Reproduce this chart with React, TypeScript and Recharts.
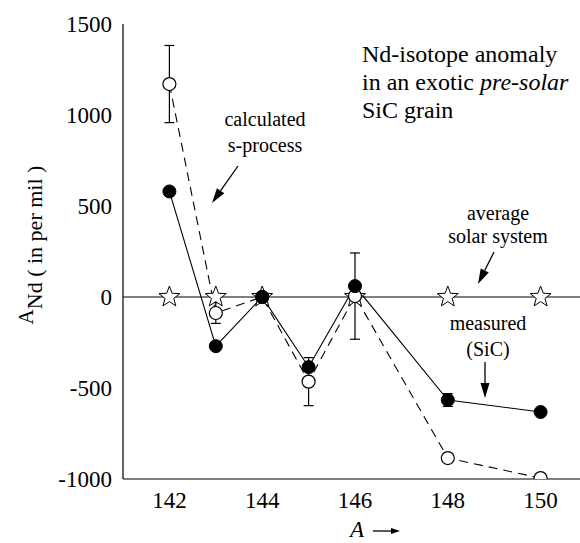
import React from 'react';
import { ComposedChart, Line, XAxis, YAxis, ReferenceLine, ErrorBar, Customized } from 'recharts';

const FONT = "'Liberation Serif', 'Times New Roman', Times, Tinos, 'Nimbus Roman', 'Noto Serif', 'DejaVu Serif', FreeSerif, serif";

// ---- data ----
const massNumbers = [142, 143, 144, 145, 146, 148, 150];
const measured = [580, -270, 0, -385, 60, -566, -632];
const measuredErr = [null, null, null, null, null, 35, null];
const calculated = [1170, -88, 0, -465, 5, -885, -995];
const calculatedErr = [212, 57, null, 132, 237, null, null];
const solarSystem = [0, 0, 0, null, 0, 0, 0];

const xMajorTicks = [142, 144, 146, 148, 150];
const xMinorTicks = [143, 145, 147, 149];
const yMajorTicks = [-1000, -500, 0, 500, 1000, 1500];
const yMinorTicks = [-900, -800, -700, -600, -400, -300, -200, -100, 100, 200, 300, 400, 600, 700, 800, 900, 1100, 1200, 1300, 1400];

const xDomain = [141, 151];
const yDomain = [-1000, 1500];

const chartData = massNumbers.map((a, i) => ({
  a,
  measured: measured[i],
  mErr: measuredErr[i],
  calculated: calculated[i],
  cErr: calculatedErr[i],
  star: solarSystem[i],
}));

const StarDot = (props: any) => {
  const { cx, cy, index } = props;
  if (cx == null || cy == null || props.value == null || isNaN(cy)) return <g key={`s${index}`} />;
  const R = 11;
  const r = 4.6;
  const pts: string[] = [];
  for (let k = 0; k < 10; k++) {
    const ang = -Math.PI / 2 + (k * Math.PI) / 5;
    const rad = k % 2 === 0 ? R : r;
    pts.push(`${cx + rad * Math.cos(ang)},${cy + rad * Math.sin(ang)}`);
  }
  return <polygon key={`s${index}`} points={pts.join(' ')} fill="#fff" stroke="#000" strokeWidth={1} />;
};

const Arrow = ({ x1, y1, x2, y2, len = 15, half = 4.5 }: any) => {
  const dx = x2 - x1;
  const dy = y2 - y1;
  const L = Math.sqrt(dx * dx + dy * dy);
  const ux = dx / L;
  const uy = dy / L;
  const bx = x2 - ux * len;
  const by = y2 - uy * len;
  const px = -uy;
  const py = ux;
  return (
    <g>
      <line x1={x1} y1={y1} x2={bx} y2={by} stroke="#000" strokeWidth={1.3} />
      <polygon
        points={`${x2},${y2} ${bx + px * half},${by + py * half} ${bx - px * half},${by - py * half}`}
        fill="#000"
      />
    </g>
  );
};

const T = (p: any) => <text {...p} style={{ fontFamily: FONT }} fill="#000" />;

const Annotations = () => (
  <g>
    <T x={362} y={62} fontSize={24}>Nd-isotope anomaly</T>
    <T x={362} y={90} fontSize={24}>
      in an exotic <tspan fontStyle="italic">pre-solar</tspan>
    </T>
    <T x={362} y={117.5} fontSize={24}>SiC grain</T>

    <T x={265} y={126} fontSize={20} textAnchor="middle">calculated</T>
    <T x={265} y={152} fontSize={20} textAnchor="middle">s-process</T>
    <Arrow x1={238} y1={166} x2={212} y2={203} />

    <T x={498} y={220} fontSize={20} textAnchor="middle">average</T>
    <T x={498} y={243} fontSize={20} textAnchor="middle">solar system</T>
    <Arrow x1={494} y1={252} x2={478} y2={284} />

    <T x={488} y={330} fontSize={20} textAnchor="middle">measured</T>
    <T x={488} y={356} fontSize={20} textAnchor="middle">(SiC)</T>
    <Arrow x1={485} y1={362} x2={485} y2={398} />

    {/* y-axis title */}
    <T transform="rotate(-90)" x={-245} y={42} fontSize={22} textAnchor="middle">
      <tspan dy={-9} fontSize={21}>A</tspan>
      <tspan dy={9}>Nd ( in per mil )</tspan>
    </T>

    {/* x-axis title */}
    <T x={350} y={537} fontSize={23} fontStyle="italic">A</T>
    <Arrow x1={373} y1={531} x2={400} y2={531} len={9} half={3} />
  </g>
);

const tickStyle = { fill: '#000', fontSize: 23, fontFamily: FONT, style: { fontFamily: FONT } };
const lineStyle = { stroke: '#000', strokeWidth: 1 };

export default function App() {
  return (
    <div style={{ position: 'absolute', left: 0, top: 0, width: 580, height: 543, overflow: 'hidden', background: '#fff', fontFamily: FONT }}>
      <ComposedChart width={600} height={543} data={chartData} margin={{ top: 24, right: 13, bottom: 24, left: 43 }}
        style={{ fontFamily: FONT }}>
        {/* bottom axis with labels */}
        <XAxis xAxisId="b" dataKey="a" type="number" domain={xDomain} ticks={xMajorTicks} interval={0}
          allowDataOverflow height={40} tickSize={0} tickMargin={13} tickLine={false}
          axisLine={{ stroke: '#000', strokeWidth: 1.2 }} tick={tickStyle} />
        <XAxis xAxisId="bMaj" type="number" domain={xDomain} ticks={xMajorTicks} interval={0} allowDataOverflow
          mirror height={0} tickSize={10} tick={false} axisLine={false} tickLine={lineStyle} />
        <XAxis xAxisId="bMin" type="number" domain={xDomain} ticks={xMinorTicks} interval={0} allowDataOverflow
          mirror height={0} tickSize={6} tick={false} axisLine={false} tickLine={lineStyle} />
        <XAxis xAxisId="tMaj" orientation="top" type="number" domain={xDomain} ticks={xMajorTicks} interval={0} allowDataOverflow
          mirror height={0} tickSize={10} tick={false} axisLine={{ stroke: '#000', strokeWidth: 1.2 }} tickLine={lineStyle} />
        <XAxis xAxisId="tMin" orientation="top" type="number" domain={xDomain} ticks={xMinorTicks} interval={0} allowDataOverflow
          mirror height={0} tickSize={6} tick={false} axisLine={false} tickLine={lineStyle} />

        {/* left axis with labels */}
        <YAxis yAxisId="l" type="number" domain={yDomain} ticks={yMajorTicks} interval={0} allowDataOverflow
          width={80} tickSize={0} tickMargin={11} tickLine={false}
          axisLine={{ stroke: '#000', strokeWidth: 1.2 }} tick={tickStyle} />
        <YAxis yAxisId="lMaj" type="number" domain={yDomain} ticks={yMajorTicks} interval={0} allowDataOverflow
          mirror width={0} tickSize={10} tick={false} axisLine={false} tickLine={lineStyle} />
        <YAxis yAxisId="lMin" type="number" domain={yDomain} ticks={yMinorTicks} interval={0} allowDataOverflow
          mirror width={0} tickSize={6} tick={false} axisLine={false} tickLine={lineStyle} />
        <YAxis yAxisId="rMaj" orientation="right" type="number" domain={yDomain} ticks={yMajorTicks} interval={0} allowDataOverflow
          mirror width={0} tickSize={10} tick={false} axisLine={{ stroke: '#000', strokeWidth: 1.2 }} tickLine={lineStyle} />
        <YAxis yAxisId="rMin" orientation="right" type="number" domain={yDomain} ticks={yMinorTicks} interval={0} allowDataOverflow
          mirror width={0} tickSize={6} tick={false} axisLine={false} tickLine={lineStyle} />

        <ReferenceLine xAxisId="b" yAxisId="l" y={0} stroke="#000" strokeWidth={1.2} />

        <Line xAxisId="b" yAxisId="l" dataKey="star" stroke="none" isAnimationActive={false}
          dot={StarDot} activeDot={false} legendType="none" />

        <Line xAxisId="b" yAxisId="l" dataKey="calculated" stroke="#000" strokeWidth={1.1} strokeDasharray="9 6"
          isAnimationActive={false}
          dot={{ r: 6.5, fill: '#fff', stroke: '#000', strokeWidth: 1.2, strokeDasharray: '0' }} activeDot={false}>
          <ErrorBar dataKey="cErr" width={5} stroke="#000" strokeWidth={1.2} direction="y" />
        </Line>

        <Line xAxisId="b" yAxisId="l" dataKey="measured" stroke="#000" strokeWidth={1.1} isAnimationActive={false}
          dot={{ r: 6.5, fill: '#000', stroke: '#000', strokeWidth: 1 }} activeDot={false}>
          <ErrorBar dataKey="mErr" width={5} stroke="#000" strokeWidth={1.2} direction="y" />
        </Line>

        <Customized component={Annotations} />
      </ComposedChart>
    </div>
  );
}
